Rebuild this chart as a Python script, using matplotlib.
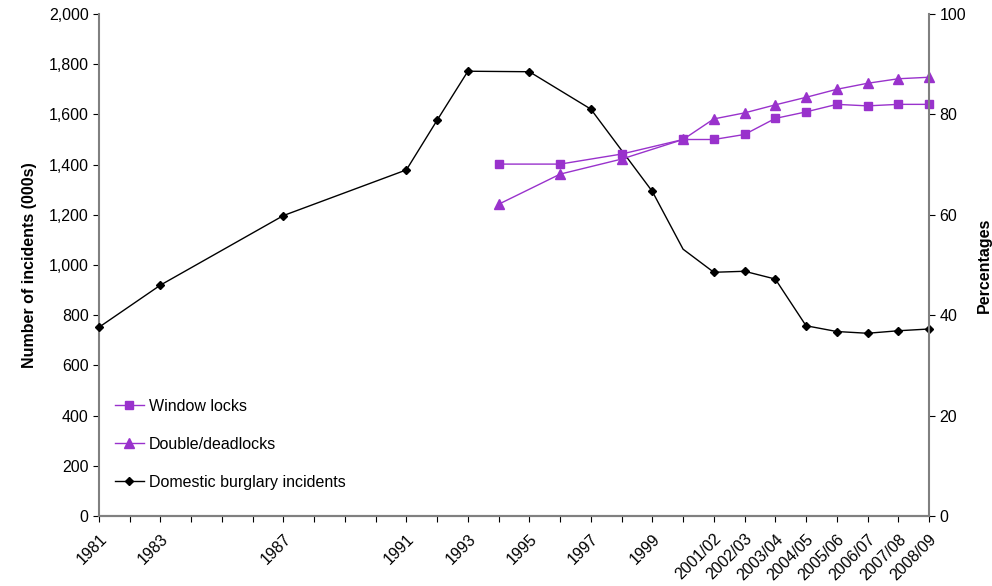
import matplotlib.pyplot as plt
from matplotlib.ticker import FuncFormatter

plt.rcParams['font.family'] = ['Liberation Sans', 'DejaVu Sans']

# Domestic burglary incidents (000s), left axis
burg_years = [1981, 1983, 1987, 1991, 1992, 1993, 1995, 1997, 1999, 2000,
              2001, 2002, 2003, 2004, 2005, 2006, 2007, 2008]
burg_values = [752, 920, 1197, 1379, 1577, 1772, 1770, 1621, 1293, 1063,
               971, 975, 944, 758, 735, 728, 738, 745]
# the 2000 point has no marker in the original
burg_marked = [i for i, y in enumerate(burg_years) if y != 2000]

# Security percentages, right axis
lock_years = [1994, 1996, 1998, 2000, 2001, 2002, 2003, 2004, 2005, 2006, 2007, 2008]
window_locks = [70.1, 70.1, 72.1, 75.0, 75.0, 76.0, 79.2, 80.5, 82.0, 81.7, 82.0, 82.0]
double_locks = [62.1, 68.1, 71.1, 75.0, 79.1, 80.3, 81.9, 83.4, 85.0, 86.2, 87.1, 87.4]

tick_years = [1981, 1983, 1987, 1991, 1993, 1995, 1997, 1999,
              2001, 2002, 2003, 2004, 2005, 2006, 2007, 2008]
tick_labels = ['1981', '1983', '1987', '1991', '1993', '1995', '1997', '1999',
               '2001/02', '2002/03', '2003/04', '2004/05', '2005/06',
               '2006/07', '2007/08', '2008/09']

purple = '#9932CC'
grey = '#808080'
fs = 11.5

fig = plt.figure(figsize=(9.92, 5.86), dpi=100)
ax = fig.add_axes([99 / 992, 1 - 516 / 586, 830 / 992, 502 / 586])
ax2 = ax.twinx()

l3, = ax.plot(burg_years, burg_values, color='black', lw=1, marker='D',
              ms=4.5, markevery=burg_marked, label='Domestic burglary incidents',
              clip_on=False, zorder=3)
l1, = ax2.plot(lock_years, window_locks, color=purple, lw=1, marker='s', ms=6,
               label='Window locks', clip_on=False)
l2, = ax2.plot(lock_years, double_locks, color=purple, lw=1, marker='^', ms=7,
               label='Double/deadlocks', clip_on=False)

ax.set_xlim(1981, 2008)
ax.set_ylim(0, 2000)
ax2.set_ylim(0, 100)
ax.set_yticks(range(0, 2001, 200))
ax.yaxis.set_major_formatter(FuncFormatter(lambda v, p: f'{int(v):,}'))
ax2.set_yticks(range(0, 101, 20))

ax.set_xticks(range(1981, 2009), minor=True)
ax.set_xticks(tick_years)
ax.set_xticklabels(tick_labels, rotation=45, ha='right', rotation_mode='anchor')

for a in (ax, ax2):
    a.spines['top'].set_visible(False)
    for s in ('left', 'right', 'bottom'):
        a.spines[s].set_color(grey)
        a.spines[s].set_linewidth(1.5)
    a.tick_params(labelsize=fs, length=4, color='black', width=0.8)
ax.tick_params(axis='x', which='minor', length=4, width=0.8)
ax.tick_params(axis='x', pad=7)
ax2.spines['left'].set_visible(False)
ax.spines['right'].set_visible(False)

ax.set_ylabel('Number of incidents (000s)', fontsize=fs, fontweight='bold', labelpad=8)
ax2.set_ylabel('Percentages', fontsize=fs, fontweight='bold', labelpad=8)

ax2.legend(handles=[l1, l2, l3], loc='lower left', bbox_to_anchor=(0.0, 0.02),
           frameon=False, fontsize=fs, labelspacing=1.45, handlelength=1.8,
           handletextpad=0.3, borderaxespad=0.6)

fig.savefig('out.png', dpi=100)
